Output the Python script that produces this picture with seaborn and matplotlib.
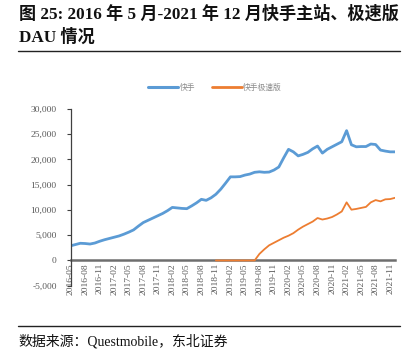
import numpy as np
import pandas as pd
import matplotlib
matplotlib.use("Agg")
import matplotlib.pyplot as plt
import seaborn as sns
from matplotlib.ticker import FuncFormatter
from matplotlib.lines import Line2D

# ---- data ----
months = pd.period_range("2016-05", "2021-12", freq="M").strftime("%Y-%m").tolist()

kuaishou = [2900, 3150, 3400, 3350, 3250, 3450, 3800, 4100, 4350, 4600,
            4850, 5200, 5600, 6050, 6800, 7500, 7950, 8400, 8850, 9300,
            9850, 10500, 10400, 10300, 10250, 10800, 11400, 12100, 11900, 12400,
            13100, 14100, 15300, 16550, 16550, 16600, 16900, 17100, 17450, 17550,
            17450, 17500, 17900, 18500, 20300, 22000, 21500, 20700, 21000, 21400,
            22100, 22650, 21250, 22000, 22500, 23000, 23500, 25700, 22900, 22500,
            22550, 22550, 23050, 22950, 21850, 21650, 21500, 21500]

jisu = [None] * 30 + [0, 0, 0, 0, 0, 0, 0, 0, 0,
                      1300, 2200, 3000, 3500, 4000, 4500, 4900, 5400, 6100, 6700,
                      7200, 7700, 8400, 8100, 8300, 8600, 9100, 9700, 11500, 10050,
                      10200, 10400, 10600, 11500, 11950, 11700, 12100, 12150, 12400]

series_names = ["快手", "快手极速版"]
colors = ["#5B9BD5", "#ED7D31"]
yticks = [-5000, 0, 5000, 10000, 15000, 20000, 25000, 30000]

title1 = "图 25: 2016 年 5 月-2021 年 12 月快手主站、极速版"
title2 = "DAU 情况"
source = "数据来源：Questmobile，东北证券"

# ---- frame ----
idx = np.arange(len(months))
df = pd.concat([
    pd.DataFrame({"i": idx, "v": kuaishou, "s": series_names[0]}),
    pd.DataFrame({"i": idx, "v": pd.array(jisu, dtype="Float64").astype(float), "s": series_names[1]}),
])

sns.set_style("white")
plt.rcParams["font.family"] = ["Liberation Serif", "Noto Sans CJK SC"]

fig = plt.figure(figsize=(4.18, 3.55), dpi=100)
ax = fig.add_axes([0.169, 0.1952, 0.776, 0.498])

sns.lineplot(data=df[df.s == series_names[0]], x="i", y="v", color=colors[0],
             lw=2.0, ax=ax, legend=False)
sns.lineplot(data=df[df.s == series_names[1]], x="i", y="v", color=colors[1],
             lw=1.3, ax=ax, legend=False)

for sp in ["top", "right"]:
    ax.spines[sp].set_visible(False)
ax.spines["left"].set_color("#404040")
ax.spines["left"].set_linewidth(0.9)
ax.spines["bottom"].set_position(("data", 0))
ax.spines["bottom"].set_color("#6e6e6e")
ax.spines["bottom"].set_linewidth(1.8)
ax.spines["bottom"].set_zorder(1)

ax.set_xlim(0, 67)
ax.set_ylim(-5000, 30000)
ax.set_yticks(yticks)
ax.yaxis.set_major_formatter(FuncFormatter(lambda v, p: f"{int(v):,}"))
ax.set_xticks(idx[::3])
ax.set_xticklabels(months[::3])
ax.set_xlabel("")
ax.set_ylabel("")

ax.tick_params(axis="y", which="major", left=True, length=3, width=0.8,
               color="#404040", labelsize=6.8, labelcolor="#595959", pad=7)
ax.tick_params(axis="x", which="major", bottom=False, length=0,
               labelsize=6.8, labelcolor="#595959", pad=2, labelrotation=90)
for t in ax.get_xticklabels() + ax.get_yticklabels():
    t.set_family("Liberation Serif")

# legend
handles = [Line2D([0], [0], color=colors[0], lw=2.2),
           Line2D([0], [0], color=colors[1], lw=2.0)]
leg = fig.legend(handles, series_names, loc="center", bbox_to_anchor=(0.515, 0.752),
                 ncol=2, frameon=False, handlelength=3.8,
                 handletextpad=0.2, columnspacing=2.2,
                 prop={"family": ["Noto Sans CJK SC"], "size": 5.6})
for t in leg.get_texts():
    t.set_color("#8c8c8c")

# title and rules
fig.text(0.046, 0.960, title1, fontsize=12.3, fontweight="bold", va="center", ha="left",
         color="#111111")
fig.text(0.046, 0.895, title2, fontsize=12.3, fontweight="bold", va="center", ha="left",
         color="#111111")
fig.add_artist(Line2D([0.043, 0.957], [0.856, 0.856], transform=fig.transFigure,
                      color="#222222", lw=1.0))
fig.add_artist(Line2D([0.043, 0.957], [0.082, 0.082], transform=fig.transFigure,
                      color="#222222", lw=1.0))
fig.text(0.043, 0.040, source, fontsize=10, va="center", ha="left", color="#111111")

fig.savefig("out.png", dpi=100)
